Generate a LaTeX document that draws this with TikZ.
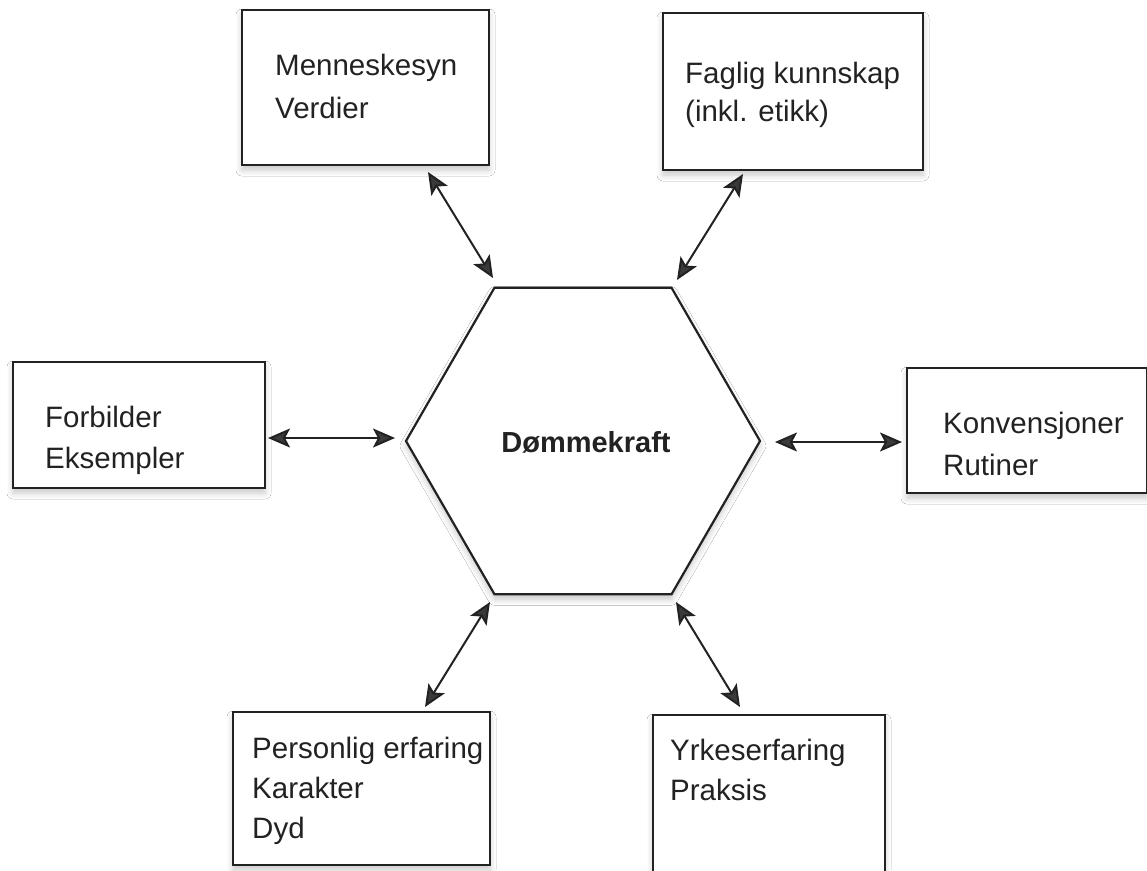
\documentclass[tikz,border=0pt]{standalone}
\usepackage{fontspec}
\newfontfamily\arialf{Liberation Sans}
\usetikzlibrary{arrows.meta,shapes.geometric,shadows.blur}
\definecolor{ink}{HTML}{222222}
\definecolor{tipfill}{HTML}{3a3a3a}
\tikzset{
  softshadow/.style={blur shadow={shadow xshift=0pt, shadow yshift=-5pt, shadow blur radius=6pt, shadow blur steps=6, shadow opacity=22}},
  boxnode/.style={draw=ink, line width=2.2pt, rectangle, inner sep=0pt, fill=white, softshadow},
  txt/.style={anchor=base west, inner sep=0pt, text=ink, font=\arialf\fontsize{29.5}{41}\selectfont},
  hexnode/.style={draw=ink, line width=2.2pt, regular polygon, regular polygon sides=6, minimum size=354pt, inner sep=0pt, fill=white, softshadow},
  tipstyle/.style={Stealth[length=22pt,width=19pt,inset=5pt,fill=tipfill]},
  dbl/.style={draw=ink, line width=2pt, {Stealth[length=22pt,width=19pt,inset=5pt,fill=tipfill]}-{Stealth[length=22pt,width=19pt,inset=5pt,fill=tipfill]}}
}
\begin{document}
\begin{tikzpicture}[x=1pt,y=-1pt]
\useasboundingbox[fill=white] (0,0) rectangle (1147,870);
% boxes
\node[boxnode, minimum width=247pt, minimum height=155pt] (tl) at (365.5,87.5) {};
\node[boxnode, minimum width=260pt, minimum height=157pt] (tr) at (793,91.5) {};
\node[boxnode, minimum width=252pt, minimum height=126pt] (lf) at (139,425) {};
\node[boxnode, minimum width=240pt, minimum height=125pt] (rt) at (1027,430.5) {};
\node[boxnode, minimum width=257pt, minimum height=153pt] (bl) at (361.5,788.5) {};
\node[boxnode, minimum width=232pt, minimum height=160pt] (br) at (769,795) {};
% hexagon
\node[hexnode] (hex) at (583,441) {};
\node[anchor=center, inner sep=0pt, text=ink, font=\arialf\bfseries\fontsize{29}{34}\selectfont] (hextxt) at (586,442) {Dømmekraft};
% texts
\node[txt] (tl1) at (275,75) {Menneskesyn};
\node[txt] (tl2) at (275,118) {Verdier};
\node[txt] (tr1) at (685,83) {Faglig kunnskap};
\node[txt] (tr2) at (685,121) {(inkl. etikk)};
\node[txt] (lf1) at (45,427) {Forbilder};
\node[txt] (lf2) at (45,468) {Eksempler};
\node[txt] (rt1) at (943,433) {Konvensjoner};
\node[txt] (rt2) at (943,475) {Rutiner};
\node[txt] (bl1) at (252,758) {Personlig erfaring};
\node[txt] (bl2) at (252,798) {Karakter};
\node[txt] (bl3) at (252,838) {Dyd};
\node[txt] (br1) at (670,760) {Yrkeserfaring};
\node[txt] (br2) at (670,800) {Praksis};
% arrow end points
\coordinate (a1s) at (428,172); \coordinate (a1e) at (493,278);
\coordinate (a2s) at (743,174); \coordinate (a2e) at (677,280);
\coordinate (a3s) at (268,438); \coordinate (a3e) at (395,438);
\coordinate (a4s) at (775,442); \coordinate (a4e) at (902,442);
\coordinate (a5s) at (490,602); \coordinate (a5e) at (425,707);
\coordinate (a6s) at (676,602); \coordinate (a6e) at (740,707);
\draw[dbl] (a1s) -- (a1e);
\draw[dbl] (a2s) -- (a2e);
\draw[dbl] (a3s) -- (a3e);
\draw[dbl] (a4s) -- (a4e);
\draw[dbl] (a5s) -- (a5e);
\draw[dbl] (a6s) -- (a6e);
\end{tikzpicture}
\end{document}
